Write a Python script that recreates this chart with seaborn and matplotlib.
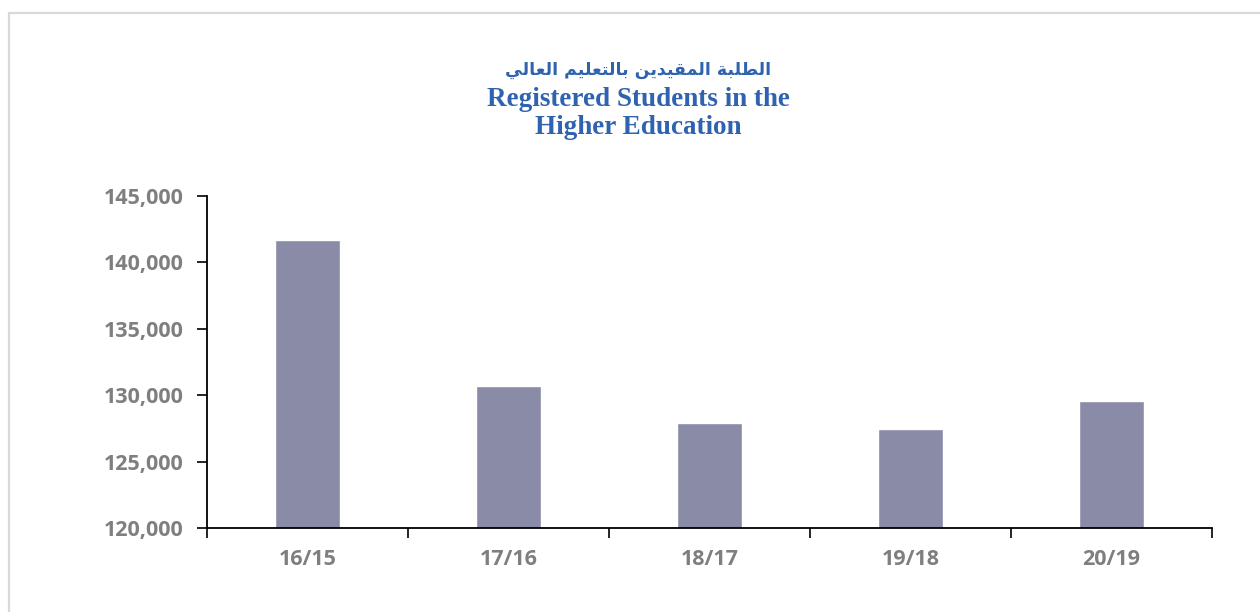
import matplotlib
matplotlib.use("Agg")
import matplotlib.pyplot as plt
from matplotlib.patches import Rectangle
from matplotlib.ticker import FuncFormatter, FixedLocator
import seaborn as sns
import pandas as pd

# Academic years and registered student counts
years = ["16/15", "17/16", "18/17", "19/18", "20/19"]
students = [141700, 130680, 127900, 127450, 129560]

title_ar = "الطلبة المقيدين بالتعليم العالي"
title_en_lines = ["Registered Students in the", "Higher Education"]

BAR = "#8A8BA6"
TITLE_BLUE = "#2F63B0"
LABEL_GREY = "#7F7F7F"

# Presentation forms (isolated, final, initial, medial) for contextual shaping
FORMS = {
    "ا": ("\uFE8D", "\uFE8E", None, None),
    "ب": ("\uFE8F", "\uFE90", "\uFE91", "\uFE92"),
    "ة": ("\uFE93", "\uFE94", None, None),
    "ت": ("\uFE95", "\uFE96", "\uFE97", "\uFE98"),
    "د": ("\uFEA9", "\uFEAA", None, None),
    "ط": ("\uFEC1", "\uFEC2", "\uFEC3", "\uFEC4"),
    "ع": ("\uFEC9", "\uFECA", "\uFECB", "\uFECC"),
    "ق": ("\uFED5", "\uFED6", "\uFED7", "\uFED8"),
    "ل": ("\uFEDD", "\uFEDE", "\uFEDF", "\uFEE0"),
    "م": ("\uFEE1", "\uFEE2", "\uFEE3", "\uFEE4"),
    "ن": ("\uFEE5", "\uFEE6", "\uFEE7", "\uFEE8"),
    "ي": ("\uFEF1", "\uFEF2", "\uFEF3", "\uFEF4"),
}


def shape_arabic(text):
    words = []
    for word in text.split(" "):
        out = []
        for i, ch in enumerate(word):
            iso, fin, ini, med = FORMS[ch]
            prev_joins = i > 0 and FORMS[word[i - 1]][2] is not None
            next_exists = i < len(word) - 1
            joins_next = ini is not None and next_exists
            if prev_joins and joins_next:
                out.append(med)
            elif prev_joins:
                out.append(fin)
            elif joins_next:
                out.append(ini)
            else:
                out.append(iso)
        words.append("".join(out)[::-1])
    return " ".join(words[::-1])


sns.set_theme(style="white")
plt.rcParams["font.family"] = ["Open Sans", "DejaVu Sans"]

df = pd.DataFrame({"year": years, "students": students})

fig = plt.figure(figsize=(12.6, 6.12), dpi=100)
fig.patch.set_facecolor("white")
ax = fig.add_axes([0.1643, 0.1373, 0.7976, 0.5425])

sns.barplot(data=df, x="year", y="students", color=BAR, width=0.32,
            saturation=1, ax=ax)

ax.set_ylim(120000, 145000)
ax.set_xlim(-0.5, len(years) - 0.5)
ax.set_yticks(range(120000, 145001, 5000))
ax.yaxis.set_major_formatter(FuncFormatter(lambda v, p: f"{int(v):,}"))

# Category boundary ticks, labels centred between them
ax.xaxis.set_major_locator(FixedLocator([i - 0.5 for i in range(len(years) + 1)]))
ax.xaxis.set_minor_locator(FixedLocator(list(range(len(years)))))
ax.set_xticklabels([], minor=False)
ax.set_xticklabels(years, minor=True)
ax.tick_params(axis="x", which="major", length=7, width=1.2, color="black",
               direction="out", bottom=True)
ax.tick_params(axis="x", which="minor", length=0, pad=15,
               labelsize=15.5, labelcolor=LABEL_GREY)
ax.tick_params(axis="y", length=7, width=1.2, color="black", direction="out",
               left=True, labelsize=15.5, labelcolor=LABEL_GREY, pad=10)
for lbl in ax.get_xticklabels(minor=True) + ax.get_yticklabels():
    lbl.set_fontweight("bold")

ax.set_xlabel("")
ax.set_ylabel("")
for side in ("top", "right"):
    ax.spines[side].set_visible(False)
for side in ("left", "bottom"):
    ax.spines[side].set_color("black")
    ax.spines[side].set_linewidth(1.3)
ax.grid(False)

# Titles
cx = 638 / 1260
fig.text(cx, 1 - 70 / 612, shape_arabic(title_ar), ha="center", va="center",
         fontsize=12.5, fontweight="bold", color=TITLE_BLUE, family="DejaVu Sans")
for line, ypix in zip(title_en_lines, (100, 128)):
    fig.text(cx, 1 - ypix / 612, line, ha="center", va="center",
             fontsize=19.5, fontweight="bold", color=TITLE_BLUE,
             family="Liberation Serif")

# Light outer frame
fig.patches.append(Rectangle((9 / 1260, -0.05), 1.2, 1 - 13 / 612 + 0.05,
                             transform=fig.transFigure, fill=False,
                             edgecolor="#D9D9D9", linewidth=1.6))

fig.savefig("out.png", dpi=100, facecolor="white")
